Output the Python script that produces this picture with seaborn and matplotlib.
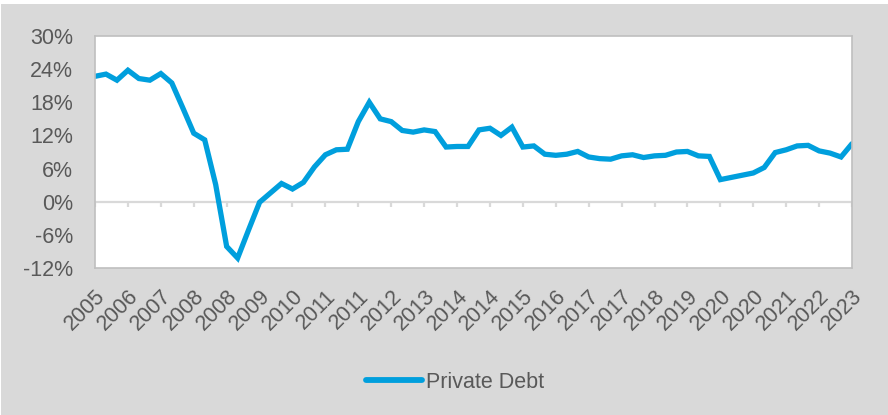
import matplotlib
matplotlib.use("Agg")
import matplotlib.pyplot as plt
import seaborn as sns
import pandas as pd
import numpy as np
from matplotlib.patches import Rectangle
from matplotlib.ticker import FuncFormatter

# ---- data (quarterly, 2005Q4 .. 2023Q1), % growth ----
private_debt = [
    22.7, 23.1, 22.0, 23.8, 22.3, 22.0, 23.2, 21.5, 17.0, 12.4,
    11.2, 3.1, -8.1, -10.2, -5.1, -0.1, 1.6, 3.3, 2.3, 3.5,
    6.3, 8.5, 9.4, 9.5, 14.5, 18.0, 15.0, 14.5, 12.9, 12.6,
    13.0, 12.7, 9.9, 10.0, 10.0, 13.0, 13.3, 12.0, 13.5, 9.9,
    10.1, 8.6, 8.4, 8.6, 9.1, 8.1, 7.8, 7.7, 8.3, 8.5,
    8.0, 8.3, 8.4, 9.0, 9.1, 8.3, 8.2, 4.0, 4.4, 4.8,
    5.2, 6.2, 8.9, 9.4, 10.1, 10.2, 9.2, 8.8, 8.1, 10.5,
]
tick_labels = ["2005", "2006", "2007", "2008", "2008", "2009", "2010", "2011",
               "2011", "2012", "2013", "2014", "2014", "2015", "2016", "2017",
               "2017", "2018", "2019", "2020", "2020", "2021", "2022", "2023"]
y_ticks = [-12, -6, 0, 6, 12, 18, 24, 30]
series_name = "Private Debt"

df = pd.DataFrame({"idx": np.arange(len(private_debt)), "value": private_debt,
                   "series": series_name})

sns.set_theme(style="white")
plt.rcParams["font.family"] = ["Liberation Sans", "DejaVu Sans"]

W, H = 888, 415
fig = plt.figure(figsize=(W / 100, H / 100), dpi=100)
fig.patch.set_facecolor("white")
fig.patches.append(Rectangle((1 / W, 0), 1 - 1 / W, 1 - 4 / H,
                             transform=fig.transFigure, facecolor="#D9D9D9",
                             edgecolor="none", zorder=-10))

ax = fig.add_axes([95 / W, 1 - 268 / H, (852 - 95) / W, (268 - 36) / H])
ax.set_facecolor("white")

line_color = "#009FDD"
txt = "#595959"

sns.lineplot(data=df, x="idx", y="value", hue="series", palette=[line_color],
             linewidth=3.8, ax=ax, legend=True)
for l in ax.lines:
    l.set_solid_capstyle("round")
    l.set_solid_joinstyle("miter")

n = len(private_debt)
ax.set_xlim(0, n - 1)
ax.set_ylim(-12, 30)

# zero line with tick marks
ax.axhline(0, color="#D9D9D9", lw=1.6, zorder=1)
tick_pos = np.arange(0, n, 3)
ax.vlines(tick_pos, 0, -0.9, color="#D9D9D9", lw=1.6, zorder=1)

ax.set_xticks(tick_pos)
ax.set_xticklabels(tick_labels, rotation=45, ha="right", va="top",
                   rotation_mode="anchor", color=txt, fontsize=15.5)
ax.tick_params(axis="x", length=0, pad=13)
ax.set_yticks(y_ticks)
ax.yaxis.set_major_formatter(FuncFormatter(lambda v, p: f"{int(v)}%"))
ax.tick_params(axis="y", length=0, pad=16, labelsize=15.5, labelcolor=txt)
ax.set_xlabel("")
ax.set_ylabel("")
ax.grid(False)
for s in ax.spines.values():
    s.set_color("#BFBFBF")
    s.set_linewidth(1.2)

leg = ax.legend(loc="center", bbox_to_anchor=(455 / W, 1 - 382 / H),
                bbox_transform=fig.transFigure, frameon=False,
                fontsize=15.5, handlelength=2.6, handletextpad=0.15,
                labelcolor=txt)
for h in leg.get_lines():
    h.set_linewidth(4.2)
    h.set_solid_capstyle("round")

fig.savefig("out.png", dpi=100, facecolor=fig.get_facecolor())
